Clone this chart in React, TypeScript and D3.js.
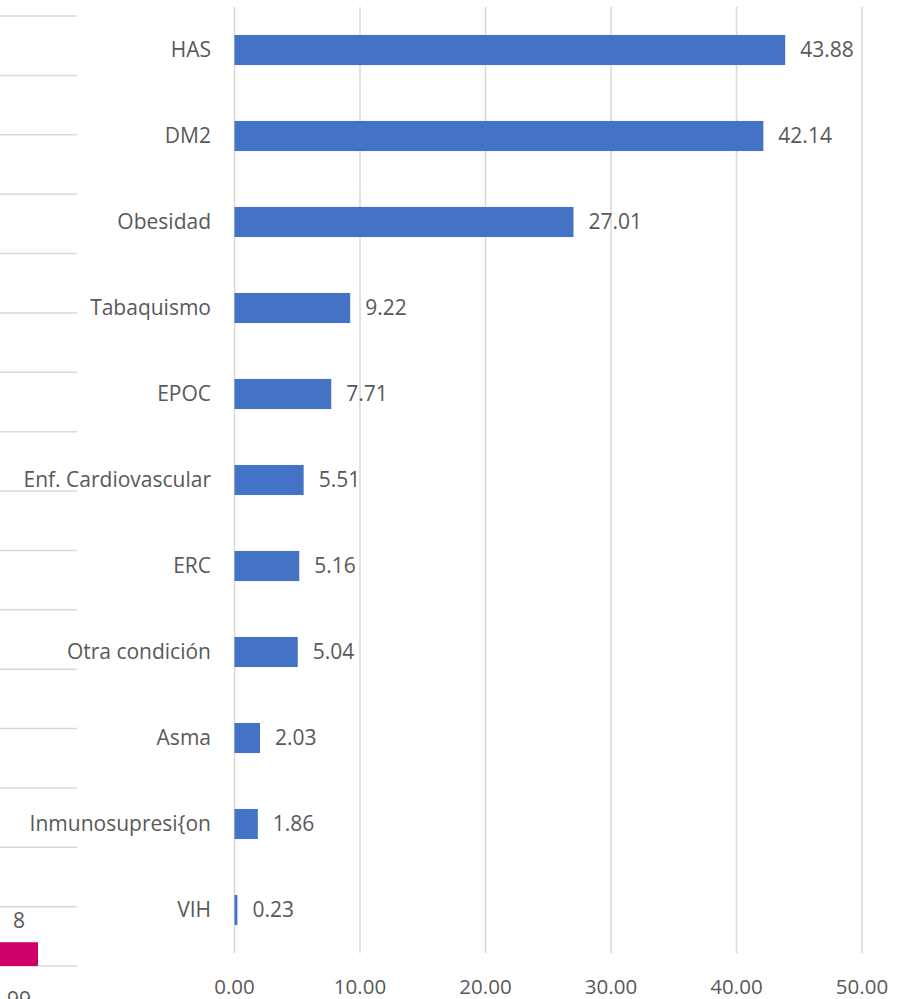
import React, { useEffect } from "react";
import * as d3 from "d3";

const categories = [
  "HAS",
  "DM2",
  "Obesidad",
  "Tabaquismo",
  "EPOC",
  "Enf. Cardiovascular",
  "ERC",
  "Otra condición",
  "Asma",
  "Inmunosupresi{on",
  "VIH",
];
const values = [43.88, 42.14, 27.01, 9.22, 7.71, 5.51, 5.16, 5.04, 2.03, 1.86, 0.23];
const xTicks = [0, 10, 20, 30, 40, 50];

// partial neighbouring chart (cut off at the left edge)
const leftBands = d3.range(16).map((i) => `c${i}`);
const leftBarValue = 8;
const leftTopLabel = "8";
const leftBottomLabel = "6.99";

const W = 909;
const H = 999;
const FONT = "'Open Sans', sans-serif";
const TEXT = "#595959";
const GRID = "#d9d9d9";

export default function App() {
  useEffect(() => {
    document.body.style.margin = "0";
  }, []);

  const x = d3.scaleLinear().domain([0, 50]).range([234.5, 862]);
  const y = d3
    .scaleBand<string>()
    .domain(categories)
    .range([7, 953])
    .paddingInner(0.65)
    .paddingOuter(0.325);

  const ly = d3.scaleBand<string>().domain(leftBands).range([16, 966]);
  const lx = d3.scaleLinear().domain([0, 10]).range([-10, 50]);
  const lastBand = leftBands[leftBands.length - 1];
  const lbY0 = (ly(lastBand) as number) + ly.bandwidth() * 0.6;

  return (
    <svg width={W} height={H} style={{ display: "block", background: "#fff" }} fontFamily={FONT}>
      {/* left partial chart */}
      <g>
        {leftBands.concat(["end"]).map((b, i) => {
          const yy = 16 + i * ly.step();
          return <line key={b} x1={0} x2={77} y1={yy} y2={yy} stroke={GRID} strokeWidth={1.5} />;
        })}
        <rect
          x={lx(0)}
          y={lbY0}
          width={lx(leftBarValue) - lx(0)}
          height={966 - lbY0}
          fill="#CC0066"
        />
        <text x={19} y={928} textAnchor="middle" fontSize={21} fill={TEXT}>
          {leftTopLabel}
        </text>
        <text x={31} y={1007} textAnchor="end" fontSize={21} fill={TEXT}>
          {leftBottomLabel}
        </text>
      </g>

      {/* gridlines */}
      {xTicks.map((t) => (
        <line key={t} x1={x(t)} x2={x(t)} y1={7} y2={953} stroke={GRID} strokeWidth={1.5} />
      ))}

      {/* bars */}
      {categories.map((c, i) => (
        <rect
          key={c}
          x={x(0)}
          y={y(c) as number}
          width={x(values[i]) - x(0)}
          height={y.bandwidth()}
          fill="#4472C4"
        />
      ))}

      {/* category labels */}
      {categories.map((c) => (
        <text
          key={c}
          x={211}
          y={(y(c) as number) + y.bandwidth() / 2}
          dy="0.35em"
          textAnchor="end"
          fontSize={21}
          fill={TEXT}
        >
          {c}
        </text>
      ))}

      {/* value labels */}
      {categories.map((c, i) => (
        <text
          key={c}
          x={x(values[i]) + 15}
          y={(y(c) as number) + y.bandwidth() / 2}
          dy="0.35em"
          textAnchor="start"
          fontSize={21}
          fill={TEXT}
        >
          {values[i].toFixed(2)}
        </text>
      ))}

      {/* x tick labels */}
      {xTicks.map((t) => (
        <text key={t} x={x(t)} y={994} textAnchor="middle" fontSize={20.5} fill={TEXT}>
          {t.toFixed(2)}
        </text>
      ))}
    </svg>
  );
}
